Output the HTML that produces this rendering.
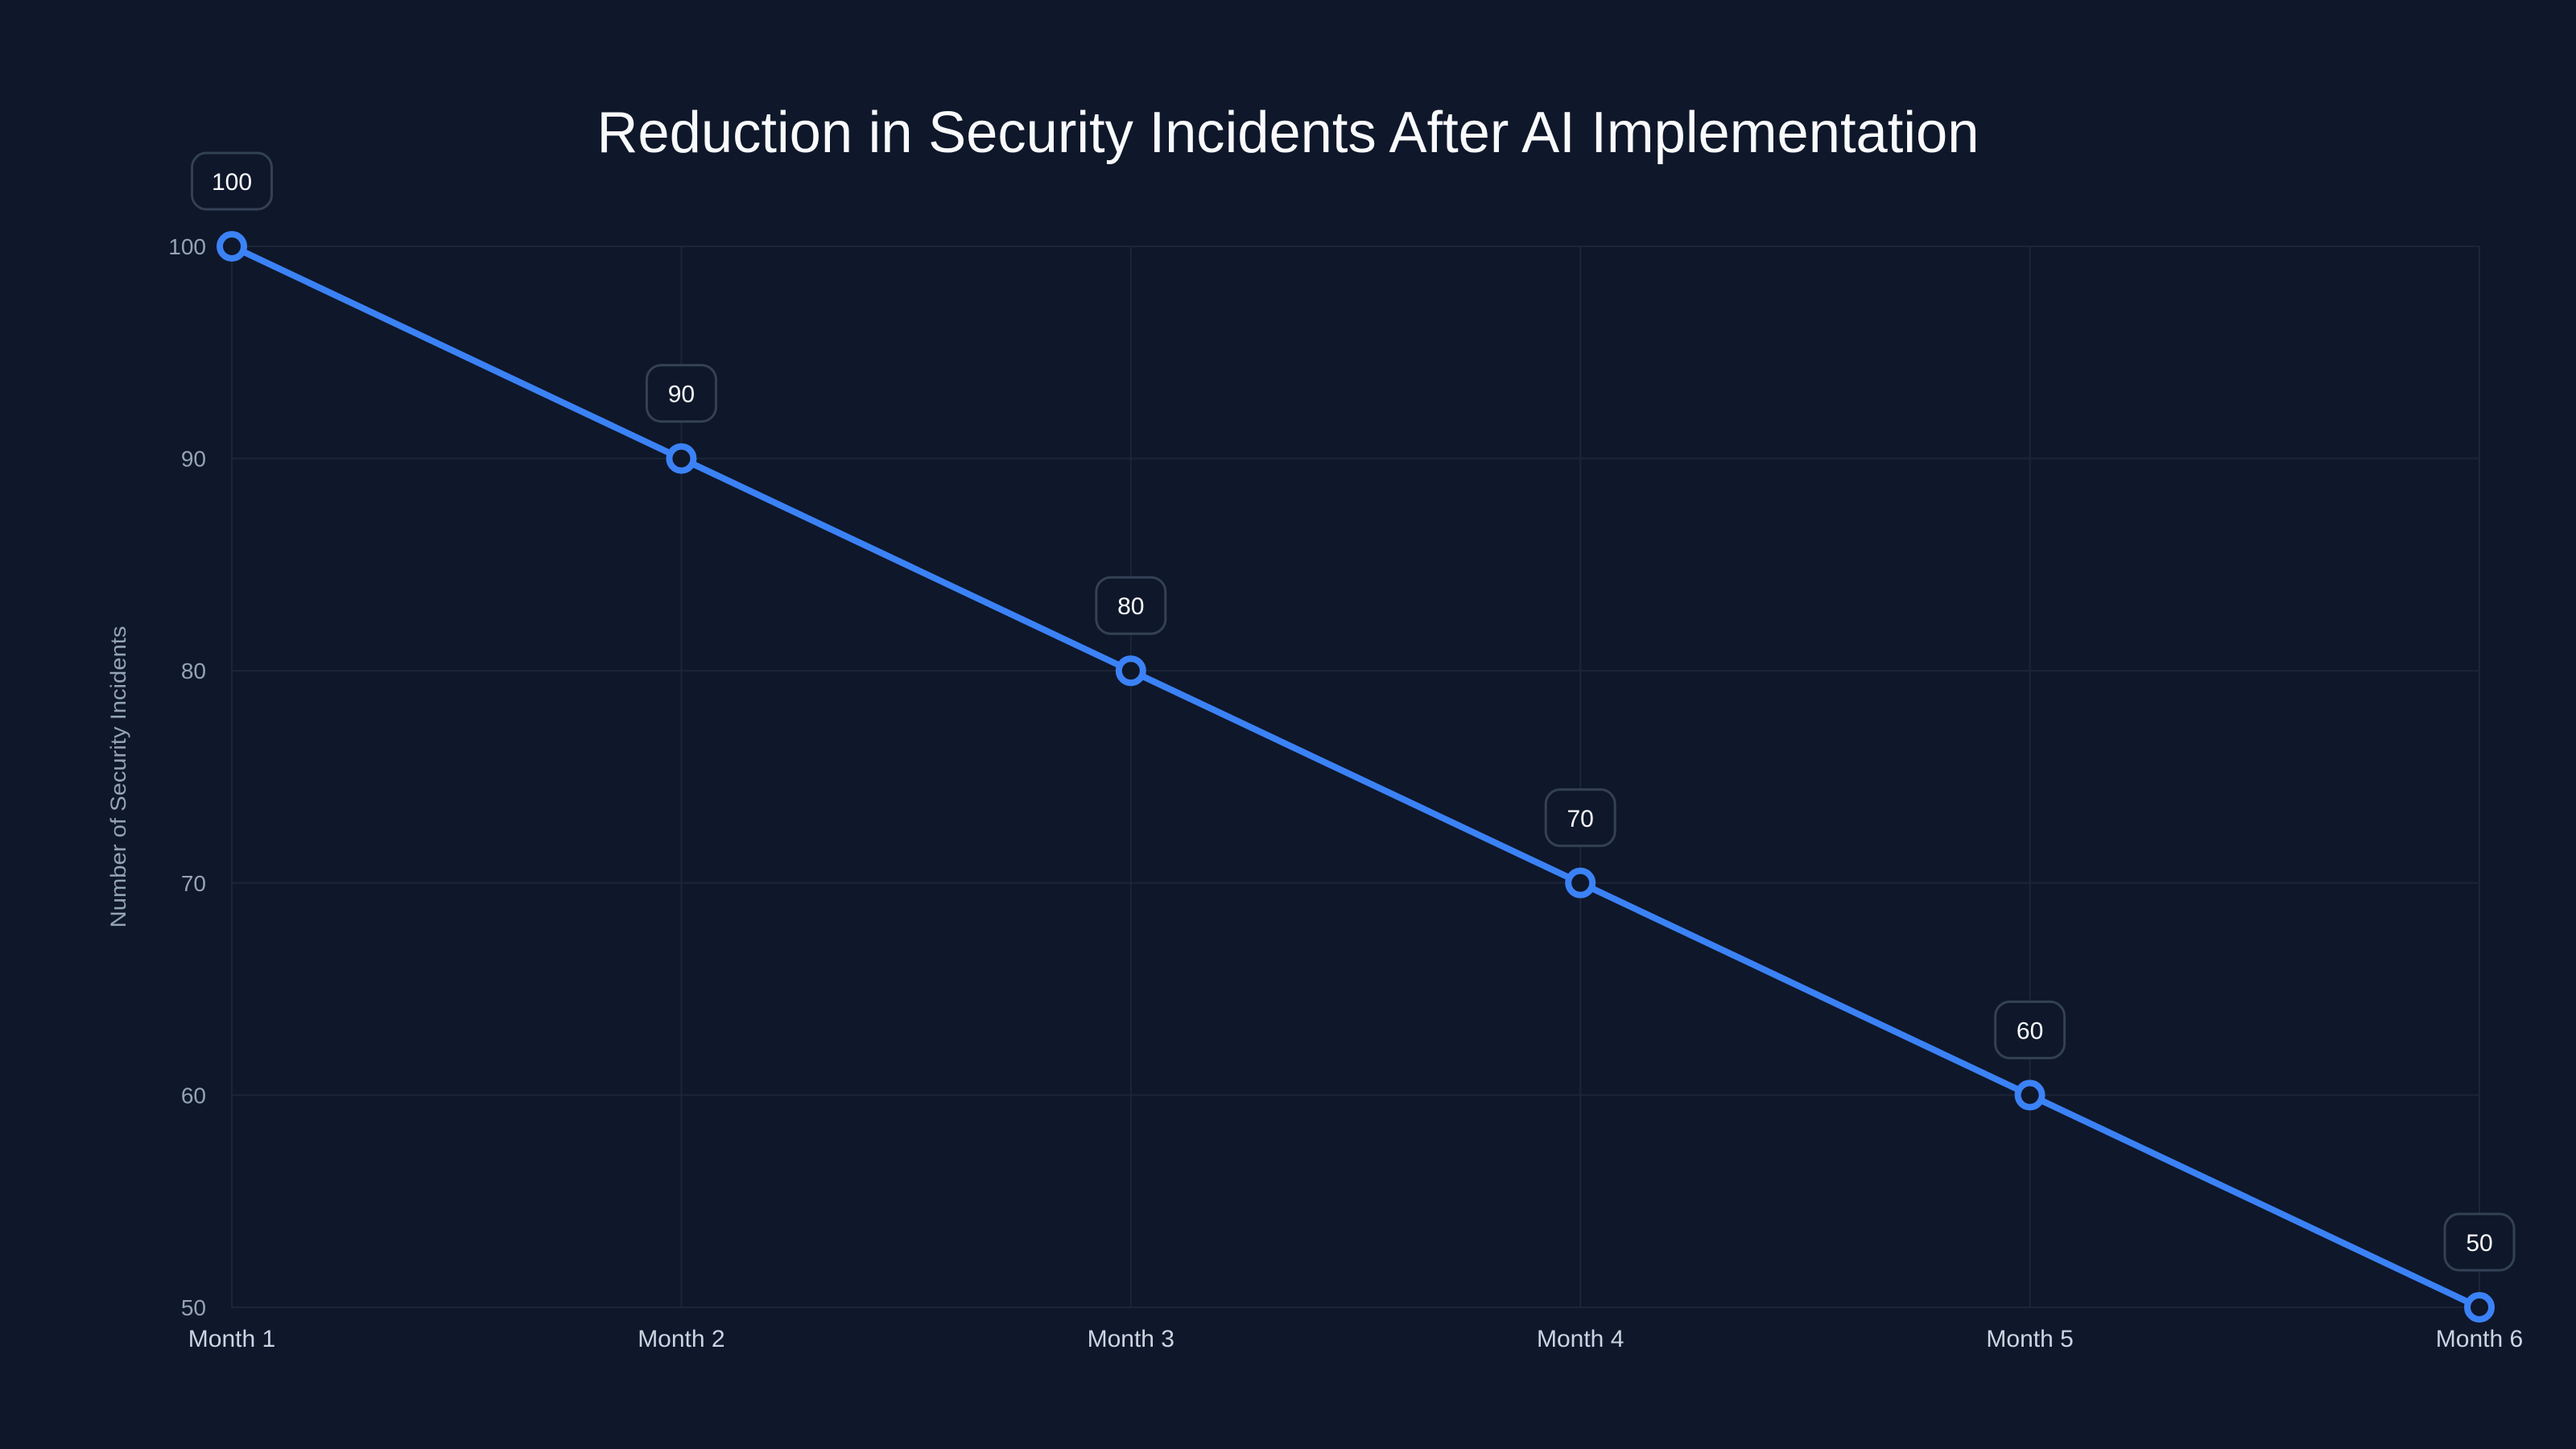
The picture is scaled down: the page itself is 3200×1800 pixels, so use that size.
<!DOCTYPE html>
<html><head><meta charset="utf-8"><style>
html,body{margin:0;padding:0;background:#0f172a;}
svg{display:block;font-family:"Liberation Sans",sans-serif;}
</style></head><body>
<svg id="chart" width="3200" height="1800" viewBox="0 0 3200 1800">
<rect width="3200" height="1800" fill="#0f172a"/>
<text x="1600" y="189" text-anchor="middle" font-size="72" fill="#f8fafc" textLength="1717" lengthAdjust="spacingAndGlyphs">Reduction in Security Incidents After AI Implementation</text>
<text transform="translate(156,965) rotate(-90)" text-anchor="middle" font-size="27" fill="#94a3b8" textLength="375" lengthAdjust="spacingAndGlyphs">Number of Security Incidents</text>
<g id="grid"></g><g id="axes"></g><g id="series"></g><g id="labels"></g>
</svg>
<script>
const categories=["Month 1","Month 2","Month 3","Month 4","Month 5","Month 6"];
const values=[100,90,80,70,60,50];
const yTicks=[50,60,70,80,90,100];
const L=288,R=3080,T=306,B=1624,yMin=50,yMax=100;
const NS="http://www.w3.org/2000/svg";
function xS(i){return L+(R-L)*i/(categories.length-1);}
function yS(v){return B-(v-yMin)/(yMax-yMin)*(B-T);}
function mk(t,a,p){const e=document.createElementNS(NS,t);for(const k in a)e.setAttribute(k,a[k]);p.appendChild(e);return e;}
const grid=document.getElementById('grid'),axes=document.getElementById('axes'),ser=document.getElementById('series'),lab=document.getElementById('labels');
yTicks.forEach(v=>{
const l=mk('line',{x1:L,x2:R,y1:yS(v),y2:yS(v),stroke:'#1c2638','stroke-width':2},grid);


const t=mk('text',{x:256,y:yS(v)+10,'text-anchor':'end','font-size':28,fill:'#94a3b8'},axes);
t.textContent=v;


});
categories.forEach((c,i)=>{
const l=mk('line',{x1:xS(i),x2:xS(i),y1:T,y2:B,stroke:'#1c2638','stroke-width':2},grid);


const t=mk('text',{x:xS(i),y:1673,'text-anchor':'middle','font-size':30,fill:'#cbd5e1'},axes);
t.textContent=c;


});
const pl=mk('polyline',{points:values.map((v,i)=>xS(i)+','+yS(v)).join(' '),fill:'none',stroke:'#3b82f6','stroke-width':8,'stroke-linejoin':'round'},ser);


values.forEach((v,i)=>{
const c=mk('circle',{cx:xS(i),cy:yS(v),r:15,fill:'#0f172a',stroke:'#3b82f6','stroke-width':8},ser);


const w=String(v).length>2?99:86;
const r=mk('rect',{x:xS(i)-w/2,y:yS(v)-116,width:w,height:70,rx:18,fill:'#0f172a',stroke:'#334155','stroke-width':3},lab);


const t=mk('text',{x:xS(i),y:yS(v)-70,'text-anchor':'middle','font-size':30,fill:'#f8fafc'},lab);
t.textContent=v;


});
</script>
</body></html>
